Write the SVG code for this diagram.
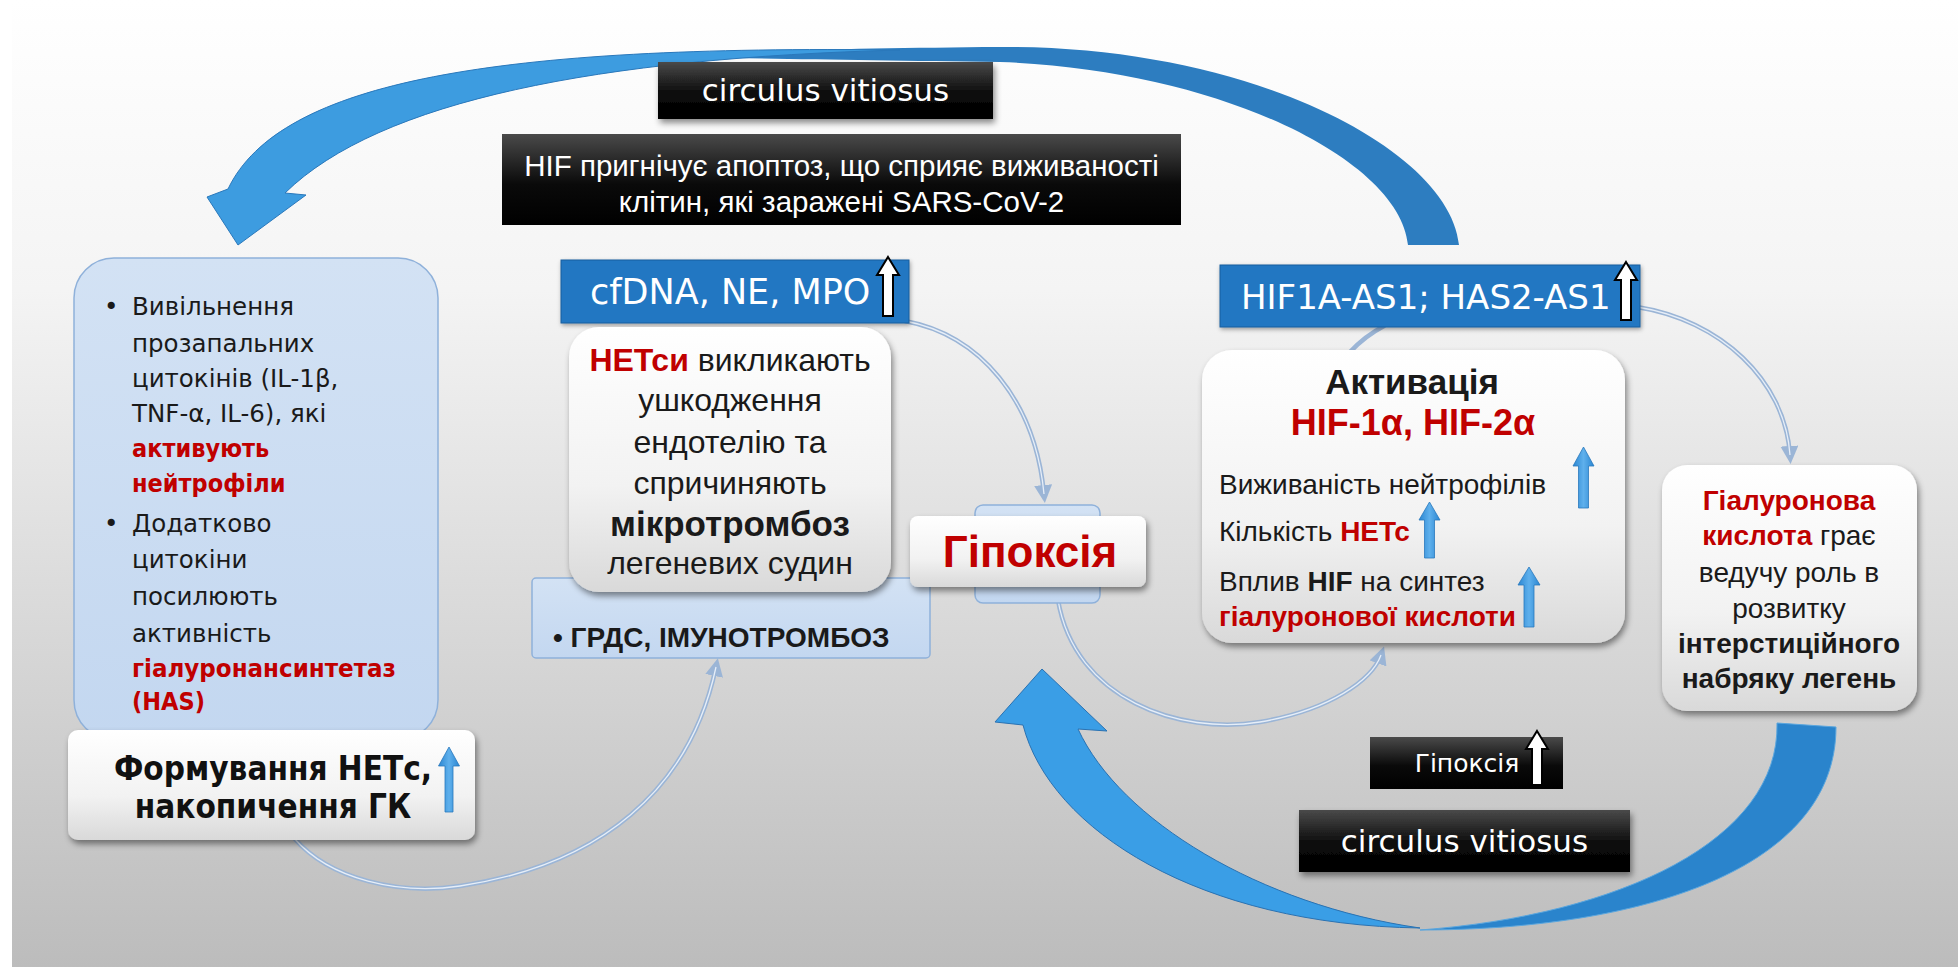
<svg xmlns="http://www.w3.org/2000/svg" width="1958" height="967" viewBox="0 0 1958 967">
<defs>
<linearGradient id="bg" x1="0" y1="0" x2="0" y2="1">
<stop offset="0" stop-color="#ffffff"/>
<stop offset="0.3" stop-color="#f4f4f4"/>
<stop offset="1" stop-color="#bcbcbc"/>
</linearGradient>
<linearGradient id="blk" x1="0" y1="0" x2="0" y2="1">
<stop offset="0" stop-color="#4a4a4a"/>
<stop offset="0.55" stop-color="#0a0a0a"/>
<stop offset="1" stop-color="#000000"/>
</linearGradient>
<linearGradient id="wht" x1="0" y1="0" x2="0" y2="1">
<stop offset="0" stop-color="#ffffff"/>
<stop offset="0.6" stop-color="#f2f2f2"/>
<stop offset="1" stop-color="#d9d9d9"/>
</linearGradient>
<linearGradient id="lblue" x1="0" y1="0" x2="0" y2="1">
<stop offset="0" stop-color="#d3e2f4"/>
<stop offset="1" stop-color="#c3d7f0"/>
</linearGradient>
<linearGradient id="barrow" x1="0" y1="0" x2="1" y2="0">
<stop offset="0" stop-color="#2a86d2"/>
<stop offset="0.5" stop-color="#5fb0ec"/>
<stop offset="1" stop-color="#2a86d2"/>
</linearGradient>
<filter id="sh" x="-10%" y="-10%" width="125%" height="130%">
<feDropShadow dx="2" dy="4" stdDeviation="3" flood-color="#000" flood-opacity="0.45"/>
</filter>
<filter id="sh2" x="-10%" y="-10%" width="125%" height="130%">
<feDropShadow dx="1" dy="2" stdDeviation="2" flood-color="#000" flood-opacity="0.35"/>
</filter>
<marker id="ah" viewBox="0 0 10 10" refX="5" refY="5" markerWidth="4" markerHeight="4" orient="auto-start-reverse">
<path d="M0,0 L10,5 L0,10 Z" fill="#9bb5d6"/>
</marker>
<style>
.t{font-family:"Liberation Sans",Arial,sans-serif;fill:#1a1a1a}
.d{font-family:"DejaVu Sans",sans-serif;fill:#1a1a1a}
.dc{font-family:"DejaVu Sans Condensed","DejaVu Sans",sans-serif}
.g{font-family:"DejaVu Sans",sans-serif;fill:#ffffff}
.w{fill:#ffffff}
.r{fill:#c00000;font-weight:bold}
.b{font-weight:bold}
.con{fill:none;stroke:#9bb5d6;stroke-width:4.5;stroke-linecap:round}
.coni{fill:none;stroke:#e6eef8;stroke-width:1.3}
.wa{fill:#ffffff;stroke:#000;stroke-width:2;stroke-linejoin:miter}
.ba{fill:url(#barrow);stroke:#2a78bd;stroke-width:0.8}
</style>
</defs>

<rect x="0" y="0" width="1958" height="967" fill="#ffffff"/>
<rect x="12" y="0" width="1946" height="967" fill="url(#bg)"/>

<g id="big-arrows">
<path id="top-arrow-back" d="M1459,245 C1450,150 1250,45 1000,47 C850,48 720,52 640,56 C720,58 850,60 1000,62 C1220,70 1400,160 1408,245 Z" fill="#2d7dc0"/>
<path id="top-arrow-front" d="M900,50 C600,58 380,100 285,193 L306,195 L238,245 L207,197 L228,189 C280,80 500,45 900,50 Z" fill="#3d9ce0" stroke="#2a78bb" stroke-width="1"/>
<path id="bottom-arrow-back" d="M1836,727 C1836,870 1640,930 1420,930 C1620,915 1780,840 1777,723 Z" fill="#2a84cc" stroke="#5aa6de" stroke-width="1"/>
<path id="bottom-arrow-front" d="M1023,725 L995,722 L1042,669 L1107,731 L1078,729 C1120,820 1260,905 1420,928 C1200,925 1050,830 1023,725 Z" fill="#3a9ee6" stroke="#2a72b2" stroke-width="1"/>
</g>

<g id="connectors">
<path class="con" d="M905,321 C980,335 1035,400 1044,494" marker-end="url(#ah)"/>
<path class="coni" d="M905,321 C980,335 1035,400 1044,494"/>
<path class="con" d="M1058,600 C1075,700 1180,735 1260,722 C1330,710 1372,680 1381,655" marker-end="url(#ah)"/>
<path class="coni" d="M1058,600 C1075,700 1180,735 1260,722 C1330,710 1372,680 1381,655"/>
<path class="con" d="M294,838 C330,880 400,895 460,886 C600,865 690,790 716,667" marker-end="url(#ah)"/>
<path class="coni" d="M294,838 C330,880 400,895 460,886 C600,865 690,790 716,667"/>
<path class="con" d="M1637,307 C1720,320 1785,380 1790,455" marker-end="url(#ah)"/>
<path class="coni" d="M1637,307 C1720,320 1785,380 1790,455"/>
<path class="con" d="M1384,326 Q1365,336 1350,352"/>
</g>

<g id="circulus-top">
<rect x="658" y="62" width="335" height="57" fill="url(#blk)" filter="url(#sh)"/>
<text class="g" x="825.5" y="101" font-size="31" text-anchor="middle">circulus vitiosus</text>
</g>

<g id="hif-apoptosis">
<rect x="502" y="134" width="679" height="91" fill="url(#blk)"/>
<text class="t w" x="841.5" y="176" font-size="29.5" text-anchor="middle">HIF пригнічує апоптоз, що сприяє виживаності</text>
<text class="t w" x="841.5" y="212" font-size="29.5" text-anchor="middle">клітин, які заражені SARS-CoV-2</text>
</g>

<g id="left-box">
<rect x="74" y="258" width="364" height="482" rx="40" fill="url(#lblue)" stroke="#8fb1da" stroke-width="1.5"/>
<g class="d" font-size="24.5">
<text x="104" y="315">•</text>
<text x="132" y="315">Вивільнення</text>
<text x="132" y="352">прозапальних</text>
<text x="132" y="387">цитокінів  (IL-1β,</text>
<text x="132" y="422">TNF-α, IL-6), які</text>
<text x="132" y="457" class="r dc" font-size="25">активують</text>
<text x="132" y="492" class="r dc" font-size="25">нейтрофіли</text>
<text x="104" y="532">•</text>
<text x="132" y="532">Додатково</text>
<text x="132" y="568">цитокіни</text>
<text x="132" y="605">посилюють</text>
<text x="132" y="642">активність</text>
<text x="132" y="677" class="r dc" font-size="25" textLength="264" lengthAdjust="spacingAndGlyphs">гіалуронансинтетаз</text>
<text x="132" y="710" class="r dc" font-size="25">(HAS)</text>
</g>
</g>

<g id="nets-formation">
<rect x="68" y="730" width="407" height="110" rx="10" fill="url(#wht)" filter="url(#sh)"/>
<text class="dc b" x="273" y="780" font-size="33" text-anchor="middle" fill="#111">Формування НЕТс,</text>
<text class="dc b" x="273" y="818" font-size="33" text-anchor="middle" fill="#111">накопичення ГК</text>
<path class="ba" d="M449,747 L459.5,766 L453,766 L453,812 L445,812 L445,766 L438.5,766 Z"/>
</g>

<g id="cfdna">
<rect x="561" y="260" width="348" height="63" fill="#2277c2" stroke="#1a5f9e" stroke-width="1" filter="url(#sh2)"/>
<text class="g" x="590" y="304" font-size="35">cfDNA, NE, MPO</text>
<path class="wa" d="M888,257 L899,275 L893,275 L893,316 L883,316 L883,275 L877,275 Z"/>
</g>

<g id="ards">
<rect x="532" y="578" width="398" height="80" rx="4" fill="url(#lblue)" stroke="#8fb1da" stroke-width="1.5"/>
<text class="t b" x="553" y="647" font-size="28">• ГРДС, ІМУНОТРОМБОЗ</text>
</g>

<g id="nets-damage">
<rect x="569" y="327" width="322" height="265" rx="30" fill="url(#wht)" filter="url(#sh)"/>
<g class="t" font-size="32" text-anchor="middle">
<text x="730" y="371"><tspan class="r">НЕТси</tspan> викликають</text>
<text x="730" y="411">ушкодження</text>
<text x="730" y="453">ендотелію та</text>
<text x="730" y="494">спричиняють</text>
<text x="730" y="536" class="b" font-size="35">мікротромбоз</text>
<text x="730" y="574">легеневих судин</text>
</g>
</g>

<g id="hypoxia">
<rect x="975" y="505" width="125" height="98" rx="8" fill="url(#lblue)" stroke="#8fb1da" stroke-width="1.5"/>
<rect x="910" y="516" width="236" height="71" rx="8" fill="url(#wht)" filter="url(#sh)"/>
<text class="t r" x="1030" y="567" font-size="44" text-anchor="middle">Гіпоксія</text>
</g>

<g id="hif1a-as1">
<rect x="1220" y="265" width="420" height="62" fill="#2277c2" stroke="#1a5f9e" stroke-width="1" filter="url(#sh2)"/>
<text class="g" x="1241" y="309" font-size="34">HIF1A-AS1; HAS2-AS1</text>
<path class="wa" d="M1626,262 L1637,280 L1631,280 L1631,320 L1621,320 L1621,280 L1615,280 Z"/>
</g>

<g id="hif-activation">
<rect x="1202" y="350" width="423" height="293" rx="30" fill="url(#wht)" filter="url(#sh)"/>
<text class="t b" x="1412" y="394" font-size="35" text-anchor="middle">Активація</text>
<text class="t r" x="1413" y="435" font-size="36" text-anchor="middle">HIF-1α, HIF-2α</text>
<g class="t" font-size="28">
<text x="1219" y="494">Виживаність  нейтрофілів</text>
<text x="1219" y="541">Кількість <tspan class="r">НЕТс</tspan></text>
<text x="1219" y="591">Вплив <tspan font-weight="bold">HIF</tspan> на синтез</text>
<text x="1219" y="626" class="r" font-size="28">гіалуронової  кислоти</text>
</g>
<path class="ba" d="M1583.5,447 L1594,466 L1588.5,466 L1588.5,508 L1578.5,508 L1578.5,466 L1573,466 Z"/>
<path class="ba" d="M1429.5,502 L1440,520 L1434.5,520 L1434.5,558 L1424.5,558 L1424.5,520 L1419,520 Z"/>
<path class="ba" d="M1529,567 L1540,585 L1534,585 L1534,627 L1524,627 L1524,585 L1518,585 Z"/>
</g>

<g id="hyaluronic">
<rect x="1662" y="465" width="255" height="246" rx="25" fill="url(#wht)" filter="url(#sh)"/>
<g class="t" font-size="28" text-anchor="middle">
<text x="1789" y="510" class="r">Гіалуронова</text>
<text x="1789" y="545"><tspan class="r">кислота</tspan> грає</text>
<text x="1789" y="582">ведучу роль в</text>
<text x="1789" y="618">розвитку</text>
<text x="1789" y="653" class="b">інтерстиційного</text>
<text x="1789" y="688" class="b">набряку  легень</text>
</g>
</g>

<g id="hypoxia-small">
<rect x="1370" y="737" width="193" height="52" fill="url(#blk)"/>
<text class="g" x="1467" y="772" font-size="25" text-anchor="middle">Гіпоксія</text>
<path class="wa" d="M1537,731 L1548,749 L1542,749 L1542,785 L1532,785 L1532,749 L1526,749 Z"/>
</g>

<g id="circulus-bottom">
<rect x="1299" y="810" width="331" height="62" fill="url(#blk)" filter="url(#sh)"/>
<text class="g" x="1464.5" y="852" font-size="31" text-anchor="middle">circulus vitiosus</text>
</g>
</svg>
